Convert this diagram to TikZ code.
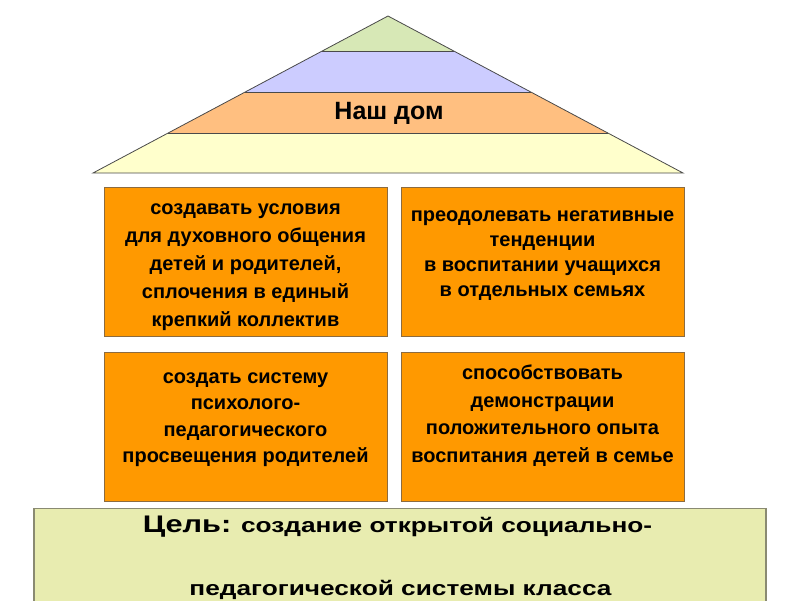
\documentclass[tikz,border=0pt]{standalone}
\usepackage{fontspec}
\setmainfont{Liberation Sans}
\newfontfamily\goalfont[FakeStretch=1.28]{Liberation Sans}
\usetikzlibrary{positioning}
\definecolor{roofgreen}{HTML}{D7E8B6}
\definecolor{roofblue}{HTML}{CCCCFF}
\definecolor{rooforange}{HTML}{FFBF80}
\definecolor{roofyellow}{HTML}{FFFFCC}
\definecolor{roofline}{HTML}{4A4A4A}
\definecolor{boxorange}{HTML}{FF9900}
\definecolor{boxedge}{HTML}{8C6B3F}
\definecolor{goalfill}{HTML}{E8ECB0}
\definecolor{goaledge}{HTML}{8A8A72}
\tikzset{
  task/.style={draw=boxedge, fill=boxorange, line width=1pt, minimum width=283pt, minimum height=149pt, inner sep=0pt},
  tasktext/.style={anchor=north, align=center, inner sep=0pt, font=\bfseries\fontsize{20}{28}\selectfont},
  band/.style={draw=roofline, line width=0.8pt},
  goaltext/.style={anchor=base, inner sep=0pt, font=\goalfont\bfseries\fontsize{20.5}{24}\selectfont},
}
\begin{document}
\begin{tikzpicture}[x=1pt,y=-1pt]
\useasboundingbox (0,0) rectangle (800,600);
\clip (0,0) rectangle (800,600);
% roof, four bands
\fill[roofyellow] (93,173) -- (168,133) -- (608,133) -- (683,173) -- cycle;
\fill[rooforange] (168,133) -- (245,92) -- (531,92) -- (608,133) -- cycle;
\fill[roofblue] (245,92) -- (322,51) -- (454,51) -- (531,92) -- cycle;
\fill[roofgreen] (322,51) -- (388,16) -- (454,51) -- cycle;
\draw[band] (93,173) -- (388,16) -- (683,173) -- cycle;
\draw[band] (168,133) -- (608,133);
\draw[band] (245,92) -- (531,92);
\draw[band] (322,51) -- (454,51);
\node[font=\bfseries\fontsize{25}{28}\selectfont] (home) at (389,113) {Наш дом};
% task boxes
\node[task] (b1) at (245.5,261.5) {};
\node[task, right=13pt of b1] (b2) {};
\node[task, below=15pt of b1] (b3) {};
\node[task, right=13pt of b3] (b4) {};
\node[tasktext, below=17pt of b1.north] (t1) {создавать условия\\для духовного общения\\детей и родителей,\\сплочения в единый\\крепкий коллектив};
\node[tasktext, below=24pt of b2.north, font=\bfseries\fontsize{20}{25}\selectfont] (t2) {преодолевать негативные\\тенденции\\в воспитании учащихся\\в отдельных  семьях};
\node[tasktext, below=21pt of b3.north, font=\bfseries\fontsize{20}{26.5}\selectfont] (t3) {создать систему\\психолого-\\педагогического\\просвещения родителей};
\node[tasktext, below=13pt of b4.north, font=\bfseries\fontsize{20}{27.7}\selectfont] (t4) {способствовать\\демонстрации\\положительного опыта\\воспитания детей в семье};
% goal
\node[draw=goaledge, fill=goalfill, line width=1.2pt, minimum width=732pt, minimum height=110pt, anchor=north] (goal) at (400,508) {};
\node[goaltext] (g1) at (397.5,532) {{\fontsize{24}{28}\selectfont Цель:} создание открытой социально-};
\node[goaltext] (g2) at (400.5,595) {педагогической системы класса};
\end{tikzpicture}
\end{document}
